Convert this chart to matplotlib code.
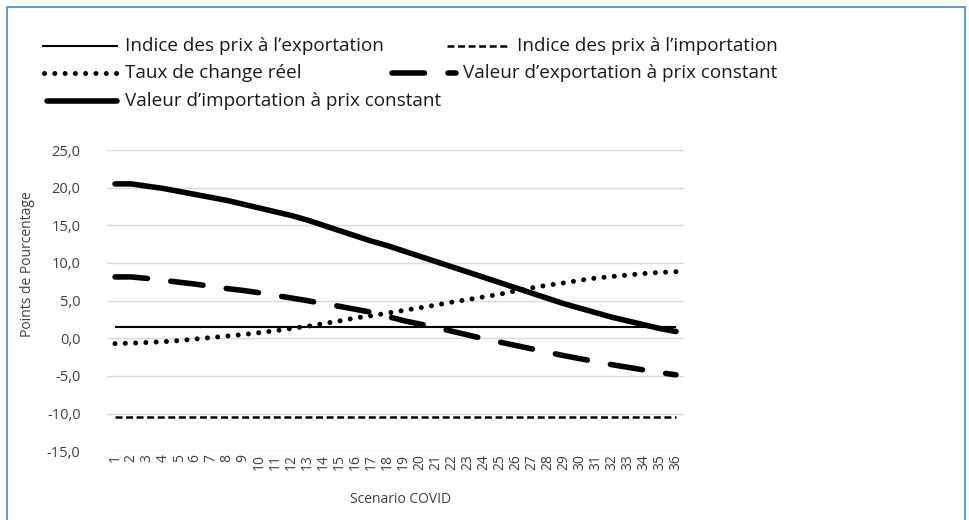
import matplotlib
matplotlib.use("Agg")
import matplotlib.pyplot as plt
from matplotlib.lines import Line2D
from matplotlib.patches import Rectangle
from matplotlib.ticker import FixedLocator

# --- données ---
scenarios = [str(i) for i in range(1, 37)]

prix_export = [1.5] * 36
prix_import = [-10.5] * 36
taux_change = [-0.7, -0.65, -0.55, -0.45, -0.3, -0.1, 0.1, 0.3, 0.5, 0.75,
               1.0, 1.3, 1.6, 1.95, 2.3, 2.7, 3.0, 3.35, 3.7, 4.05,
               4.4, 4.8, 5.15, 5.5, 5.85, 6.3, 6.7, 7.05, 7.35, 7.7,
               8.0, 8.2, 8.4, 8.6, 8.75, 8.85]
valeur_export = [8.15, 8.15, 7.95, 7.7, 7.45, 7.2, 6.9, 6.6, 6.35, 6.05,
                 5.7, 5.35, 5.0, 4.6, 4.25, 3.85, 3.45, 2.9, 2.35, 1.9,
                 1.45, 0.95, 0.45, -0.05, -0.5, -0.95, -1.4, -1.85, -2.3, -2.7,
                 -3.1, -3.5, -3.85, -4.2, -4.55, -4.85]
valeur_import = [20.5, 20.5, 20.2, 19.9, 19.5, 19.1, 18.7, 18.3, 17.8, 17.3,
                 16.8, 16.3, 15.7, 15.0, 14.3, 13.6, 12.9, 12.3, 11.6, 10.9,
                 10.2, 9.5, 8.8, 8.1, 7.4, 6.7, 6.0, 5.3, 4.6, 4.0,
                 3.4, 2.8, 2.3, 1.8, 1.3, 0.9]

y_ticks = [-15, -10, -5, 0, 5, 10, 15, 20, 25]
y_labels = ["-15,0", "-10,0", "-5,0", "0,0", "5,0", "10,0", "15,0", "20,0", "25,0"]

labels = ["Indice des prix à l\u2019exportation", "Indice des prix à l\u2019importation",
          "Taux de change réel", "Valeur d\u2019exportation à prix constant",
          "Valeur d\u2019importation à prix constant"]

plt.rcParams["lines.scale_dashes"] = False
plt.rcParams["font.family"] = ["Open Sans", "DejaVu Sans"]

styles = [
    dict(lw=1.5, ls="-", solid_capstyle="butt"),
    dict(lw=1.8, ls=(0, (5.0, 2.6)), dash_capstyle="butt"),
    dict(lw=3.6, ls=(0, (0.01, 7.4)), dash_capstyle="round"),
    dict(lw=4.0, ls=(0, (23.4, 16.9)), dash_capstyle="round"),
    dict(lw=4.0, ls="-", solid_capstyle="round"),
]
series = [prix_export, prix_import, taux_change, valeur_export, valeur_import]

fig = plt.figure(figsize=(9.69, 5.2), dpi=100)
W, H = 969, 520

# cadre bleu
fig.patches.append(Rectangle((7 / W, -0.05), (965 - 7) / W, 1.05 - 7 / H,
                             transform=fig.transFigure, fill=False,
                             edgecolor="#5B9BD5", lw=1.4))

ax = fig.add_axes([107 / W, 1 - 451.3 / H, (684 - 107) / W, (451.3 - 150) / H])
x = list(range(len(scenarios)))
for vals, st in zip(series, styles):
    ax.plot(x, vals, color="black", **st, zorder=3)

ax.set_xlim(-0.5, len(scenarios) - 0.5)
ax.set_ylim(-15, 25)
ax.yaxis.set_major_locator(FixedLocator(y_ticks))
ax.set_yticklabels(y_labels)
ax.set_xticks(x)
ax.set_xticklabels(scenarios, rotation=90)
ax.grid(axis="y", color="#D9D9D9", lw=1.0, zorder=0)
for s in ax.spines.values():
    s.set_visible(False)
ax.tick_params(axis="y", length=0, pad=19, labelsize=10.5, labelcolor="#404040")
ax.tick_params(axis="x", length=0, pad=2, labelsize=10, labelcolor="#404040")

ax.set_ylabel("Points de Pourcentage", fontsize=10, color="#404040")
ax.yaxis.set_label_coords(-0.125, 0.62)
ax.set_xlabel("Scenario COVID", fontsize=10, color="#404040")
ax.xaxis.set_label_coords(0.508, -0.135)

# légende (dessinée à la main pour reprendre la disposition)
entries = [
    (0, 42, 118, 125, 46),
    (1, 447, 510, 517, 46),
    (2, 44, 118, 125, 73),
    (3, 392, 456, 463, 73),
    (4, 47, 117, 125, 101),
]
for idx, x0, x1, xt, yc in entries:
    st = styles[idx]
    fig.add_artist(Line2D([x0 / W, x1 / W], [1 - yc / H, 1 - yc / H],
                          transform=fig.transFigure, color="black", **st))
    fig.text(xt / W, 1 - yc / H, labels[idx], fontsize=13.6,
             color="#1a1a1a", va="center", ha="left")

fig.savefig("out.png", dpi=100)
